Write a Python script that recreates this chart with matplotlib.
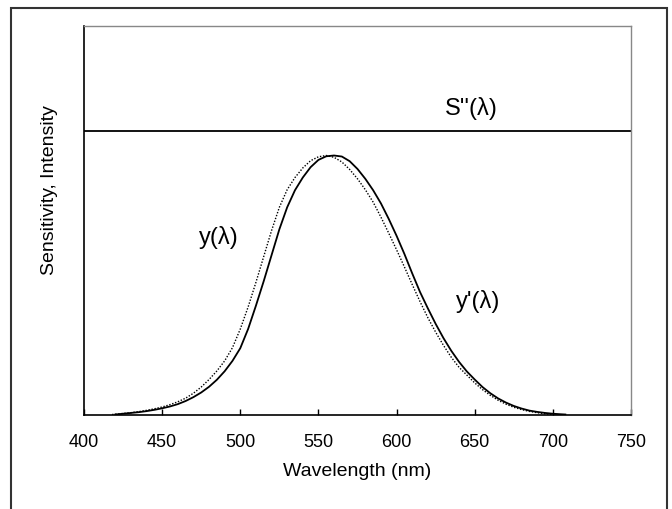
import matplotlib
matplotlib.use("Agg")
import matplotlib.pyplot as plt
from matplotlib.patches import Rectangle

plt.rcParams['font.family'] = ['Liberation Sans', 'DejaVu Sans']

# relative sensitivity curves (nm, normalised to peak)
wl_solid = [420, 425, 430, 435, 440, 445, 450, 455, 460, 465, 470, 475, 480, 485,
            490, 495, 500, 505, 510, 515, 520, 525, 530, 535, 540, 545, 550, 555,
            560, 565, 570, 575, 580, 585, 590, 595, 600, 605, 610, 615, 620, 625,
            630, 635, 640, 645, 650, 655, 660, 665, 670, 675, 680, 685, 690, 695,
            700, 705, 708]
y_solid = [0.0, 0.003, 0.006, 0.009, 0.013, 0.018, 0.024, 0.031, 0.040, 0.052, 0.067,
           0.085, 0.107, 0.134, 0.167, 0.207, 0.256, 0.330, 0.420, 0.515, 0.615,
           0.715, 0.800, 0.866, 0.915, 0.955, 0.983, 0.997, 1.0, 0.996, 0.978, 0.948,
           0.910, 0.866, 0.815, 0.755, 0.690, 0.620, 0.545, 0.473, 0.410, 0.350,
           0.295, 0.246, 0.203, 0.166, 0.135, 0.106, 0.082, 0.062, 0.046, 0.033,
           0.023, 0.015, 0.010, 0.006, 0.003, 0.001, 0.0]

wl_dot = [418, 425, 430, 435, 440, 445, 450, 455, 460, 465, 470, 475, 480, 485, 490,
          495, 500, 505, 510, 515, 520, 525, 530, 535, 540, 545, 550, 555, 560, 565,
          570, 575, 580, 585, 590, 595, 600, 605, 610, 615, 620, 625, 630, 635, 640,
          645, 650, 655, 660, 665, 670, 675, 680, 685, 690, 695, 700]
y_dot = [0.0, 0.004, 0.007, 0.011, 0.016, 0.022, 0.029, 0.038, 0.049, 0.063, 0.082,
         0.106, 0.135, 0.168, 0.207, 0.258, 0.330, 0.415, 0.510, 0.610, 0.710, 0.800,
         0.868, 0.915, 0.952, 0.980, 0.995, 1.0, 0.993, 0.975, 0.946, 0.910, 0.868,
         0.820, 0.762, 0.700, 0.636, 0.570, 0.502, 0.436, 0.374, 0.318, 0.267, 0.221,
         0.182, 0.152, 0.122, 0.096, 0.074, 0.055, 0.040, 0.028, 0.019, 0.012, 0.007,
         0.003, 0.0]

s_level = 1.095
xticks = [400, 450, 500, 550, 600, 650, 700, 750]

fig = plt.figure(figsize=(6.72, 5.09), dpi=100)
fig.patches.append(Rectangle((11 / 672, -0.05), 656 / 672, 1.05 - 7.5 / 509,
                             transform=fig.transFigure, fill=False,
                             edgecolor='#333333', linewidth=1.5))

ax = fig.add_axes([84 / 672, (509 - 414.5) / 509, (631 - 84) / 672, (414.5 - 26) / 509])
ax.plot(wl_solid, y_solid, color='black', linewidth=1.3)
ax.plot(wl_dot, y_dot, color='black', linewidth=1.0, linestyle=(0, (1, 1.2)))
ax.axhline(s_level, color='black', linewidth=1.3)

ax.text(648, 1.18, "S''(λ)", fontsize=17, ha='center', va='center')
ax.text(486, 0.685, "y(λ)", fontsize=17, ha='center', va='center')
ax.text(652, 0.435, "y'(λ)", fontsize=17, ha='center', va='center')

ax.set_xlim(400, 750)
ax.set_ylim(0, 1.5)
ax.set_xticks(xticks)
ax.set_yticks([])
ax.tick_params(axis='x', direction='in', length=4, width=1, pad=14, labelsize=13)
ax.set_xlabel('Wavelength (nm)', fontsize=14, labelpad=9)
ax.set_ylabel('Sensitivity, Intensity', fontsize=14)
ax.yaxis.set_label_coords(-0.048, 0.578)

for side in ['top', 'right']:
    ax.spines[side].set_color('#888888')
    ax.spines[side].set_linewidth(1.0)
for side in ['left', 'bottom']:
    ax.spines[side].set_color('black')
    ax.spines[side].set_linewidth(1.2)

fig.savefig('out.png', dpi=100)
